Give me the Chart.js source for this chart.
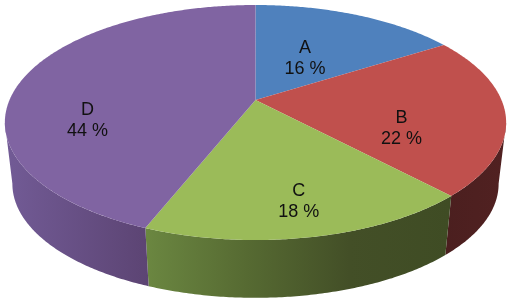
<!DOCTYPE html>
<html>
<head>
<meta charset="utf-8">
<style>
  html, body { margin: 0; padding: 0; background: #fff; }
  #wrap { width: 511px; height: 304px; }
</style>
<script src="https://cdn.jsdelivr.net/npm/chart.js@4"></script>
</head>
<body>
<div id="wrap"><canvas id="chartPie" width="511" height="304"></canvas></div>
<script>
const categories = ["A", "B", "C", "D"];
const shares = [16, 22, 18, 44];
const sliceColors = ["#4f81bd", "#c0504d", "#9bbb59", "#8064a2"];

// side wall shading, left to right on screen
const wallColors = [
    ["#3a5f8c", "#3a5f8c"],
    ["#4b1f1f", "#512121"],
    ["#6b8741", "#566a32", "#434f27", "#3f4c24"],
    ["#725b96", "#5c4473"]
];

// where each label sits: fraction of radius along the slice, then a small nudge
const labelRadius = [0.45, 0.59, 0.75, 0.7];
const labelNudgeX = [0, 0, 3, -3];
const labelNudgeY = [0, 20, 4, 35];

// perspective of the tilted disc
const view = { x: 255.5, y: 100, a: 246, b: 113.2, p: 0.1915, depth: 62, shrink: 0.97 };

// angle is the library's arc angle (0 = 3 o'clock, clockwise)
function project(angle, r, floor) {
    const u = Math.cos(angle) * r;
    const v = Math.sin(angle) * r;
    const w = 1 - view.p * v;
    const s = floor ? view.shrink : 1;
    return {
        x: view.x + s * view.a * u / w,
        y: view.y + (floor ? view.depth : 0) + s * view.b * v / w
    };
}

const pie3d = {
    id: "pie3d",
    beforeDatasetDraw() {
        return false; // the flat disc is replaced by afterDatasetsDraw below
    },
    afterDatasetsDraw(chart) {
        const ctx = chart.ctx;
        const arcs = chart.getDatasetMeta(0).data;

        // the wall only shows between the two silhouette points of the rim
        const wallFrom = Math.asin(view.p);
        const wallTo = Math.PI - wallFrom;

        arcs.forEach((arc, i) => {
            const from = Math.max(arc.startAngle, wallFrom);
            const to = Math.min(arc.endAngle, wallTo);
            if (to <= from) return;

            const steps = Math.ceil((to - from) / 0.01);
            const top = [], bottom = [];
            for (let k = 0; k <= steps; k++) {
                const t = from + (to - from) * k / steps;
                top.push(project(t, 1, false));
                bottom.push(project(t, 1, true));
            }
            const xs = top.concat(bottom).map(q => q.x);
            const grad = ctx.createLinearGradient(Math.min(...xs), 0, Math.max(...xs), 0);
            wallColors[i].forEach((c, n) => grad.addColorStop(n / (wallColors[i].length - 1), c));

            ctx.beginPath();
            top.forEach((q, n) => n ? ctx.lineTo(q.x, q.y) : ctx.moveTo(q.x, q.y));
            bottom.reverse().forEach(q => ctx.lineTo(q.x, q.y));
            ctx.closePath();
            ctx.fillStyle = grad;
            ctx.fill();
        });

        arcs.forEach((arc) => {
            const steps = Math.ceil((arc.endAngle - arc.startAngle) / 0.01);
            ctx.beginPath();
            ctx.moveTo(view.x, view.y);
            for (let k = 0; k <= steps; k++) {
                const t = arc.startAngle + (arc.endAngle - arc.startAngle) * k / steps;
                const q = project(t, 1, false);
                ctx.lineTo(q.x, q.y);
            }
            ctx.closePath();
            ctx.fillStyle = arc.options.backgroundColor;
            ctx.fill();
        });

        ctx.font = '18px "Liberation Sans", Arial, sans-serif';
        ctx.fillStyle = "#111";
        ctx.textAlign = "center";
        ctx.textBaseline = "middle";
        arcs.forEach((arc, i) => {
            const mid = (arc.startAngle + arc.endAngle) / 2;
            const q = project(mid, labelRadius[i], false);
            const x = q.x + labelNudgeX[i];
            const y = q.y + labelNudgeY[i];
            ctx.fillText(categories[i], x, y - 10);
            ctx.fillText(shares[i] + " %", x, y + 10.5);
        });
    }
};

new Chart(document.getElementById("chartPie"), {
    type: "pie",
    data: {
        labels: categories,
        datasets: [{
            data: shares,
            backgroundColor: sliceColors,
            borderWidth: 0
        }]
    },
    options: {
        responsive: false,
        animation: false,
        plugins: {
            legend: { display: false },
            tooltip: { enabled: false }
        }
    },
    plugins: [pie3d]
});
</script>
</body>
</html>
